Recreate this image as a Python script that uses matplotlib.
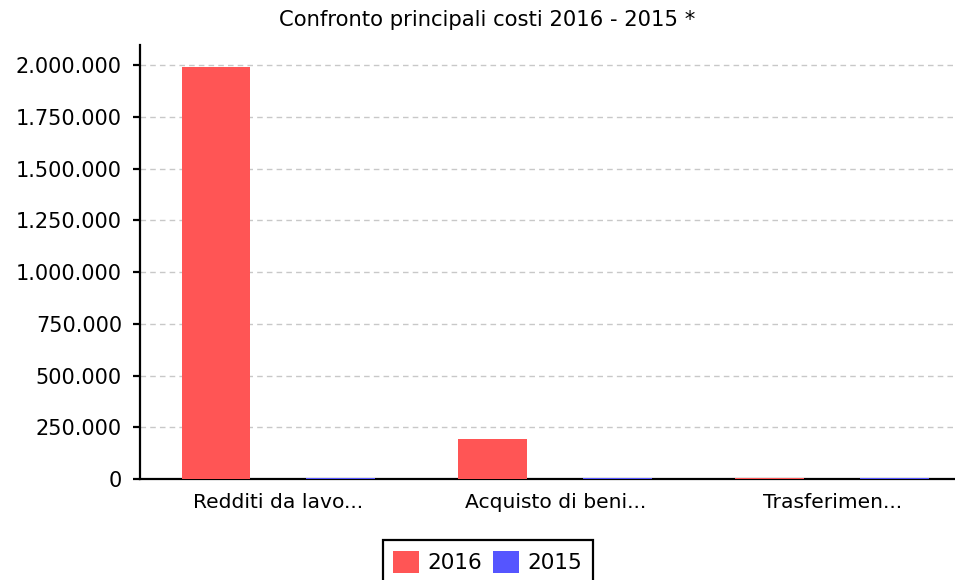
import matplotlib.pyplot as plt
import matplotlib.ticker as mticker
import numpy as np

categories = ["Redditi da lavo...", "Acquisto di beni...", "Trasferimen..."]
series_names = ["2016", "2015"]
values_2016 = [1990000, 193000, 7000]
values_2015 = [6000, 6000, 6000]
colors = ["#FF5555", "#5555FF"]


def fmt_it(v, pos):
    return f"{int(v):,}".replace(",", ".")


fig = plt.figure(figsize=(9.55, 5.8), dpi=100)
ax = fig.add_axes([0.1466, 0.1741, 0.8534, 0.7483])

x = np.arange(len(categories))
w = 0.249
off = 0.2256
ax.bar(x - off, values_2016, w, color=colors[0], label=series_names[0], zorder=3)
ax.bar(x + off, values_2015, w, color=colors[1], label=series_names[1], zorder=3)

ax.set_xlim(-0.5, 2.444)
ax.set_ylim(0, 2096600)
ax.set_yticks(np.arange(0, 2000001, 250000))
ax.yaxis.set_major_formatter(mticker.FuncFormatter(fmt_it))
ax.set_xticks(x)
ax.set_xticklabels(categories)

ax.grid(axis="y", color="#c8c8c8", linestyle=(0, (4, 3)), linewidth=1, zorder=0)
for s in ["top", "right"]:
    ax.spines[s].set_visible(False)
ax.spines["left"].set_linewidth(1.6)
ax.spines["bottom"].set_linewidth(1.6)
ax.tick_params(axis="y", length=5, width=1.6, labelsize=15, pad=8)
ax.tick_params(axis="x", length=0, labelsize=14.6, pad=10)

fig.text(0.5105, 0.965, "Confronto principali costi 2016 - 2015 *",
         fontsize=15.2, ha="center", va="center")

leg = fig.legend(loc="upper center", bbox_to_anchor=(0.511, 0.069), ncol=2,
                 fontsize=15.5, frameon=True, fancybox=False, framealpha=1,
                 handlelength=1.2, handleheight=1.2, handletextpad=0.4,
                 columnspacing=0.5, borderpad=0.5, borderaxespad=0)
leg.get_frame().set_edgecolor("black")
leg.get_frame().set_linewidth(1.6)

fig.savefig("out.png", dpi=100)
